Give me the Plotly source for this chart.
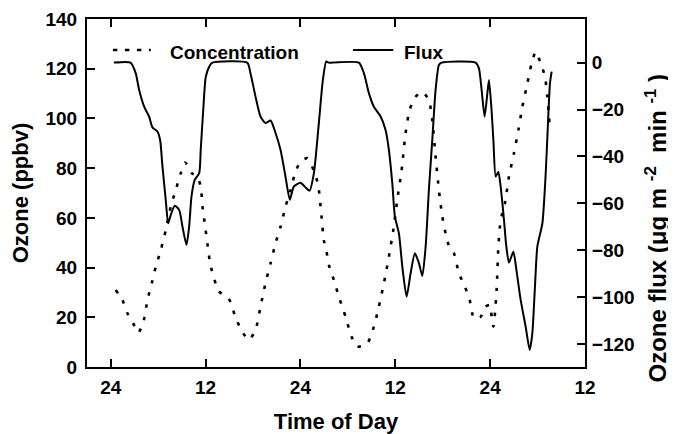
import plotly.graph_objects as go

# Flux (right axis), hours since first midnight
flux_hours = [0.4, 2.5, 3.16, 3.59, 4.23, 4.86, 5.28, 5.91, 6.25, 6.54, 6.96, 7.27, 7.59, 8.10, 8.66,
              9.08, 9.58, 9.92, 10.22, 10.63, 11.19, 11.39, 11.73, 12.03, 12.58, 12.87,
              17.27, 17.68, 18.32, 18.95, 19.58, 20.22, 20.85, 21.48, 22.11, 22.66, 23.16, 24.01,
              24.56, 25.15, 25.70, 26.33, 26.84, 27.27, 27.56,
              31.39, 32.03, 32.66, 33.29, 34.14, 34.77, 35.19, 35.62, 35.95, 36.46, 36.89, 37.43,
              37.94, 38.48, 38.99, 39.42, 39.84, 40.25, 40.68, 41.10, 41.52, 41.86,
              46.16, 46.58, 46.92, 47.30, 47.65, 47.85, 48.15, 48.41, 48.70, 49.04, 49.33, 49.75,
              50.05, 50.38, 50.94, 51.32, 51.86, 52.49, 53.00, 53.34, 53.67, 53.97, 54.61, 55.03,
              55.37, 55.57, 55.78]
flux_values = [0, 0, -4.5, -11.6, -18.8, -23, -27.6, -29.4, -33, -44, -58.5, -68.5, -65, -61, -62.8,
               -70, -77.7, -70, -57, -50, -47.2, -37, -18.8, -6, -1, 0,
               0, -4.5, -14.5, -23, -25.8, -24.7, -30, -37.2, -48.6, -58.5, -52.9, -51.2,
               -52.9, -54.6, -47.2, -25.8, -7.4, 0.5, 0,
               0, -4.5, -13, -18.8, -23, -28.7, -37.2, -51.4, -65.7, -72.8, -87, -99.8,
               -89.8, -81.3, -85.5, -91, -78.5, -54.3, -33, -11.6, -1, 0,
               0, -2.4, -11.6, -23, -13, -7.4, -18.8, -33, -48.6, -46.5, -52.9, -67.1,
               -78.5, -85.3, -80.6, -88.4, -101.2, -112.6, -122.5, -115.4, -95.5, -78.5, -68.5, -47.2,
               -21.6, -8.8, -3.8]

# Ozone concentration (left axis)
conc_hours = [0.63, 1.48, 2.11, 2.84, 3.47, 4.10, 4.65, 5.19, 5.70, 6.33, 6.96, 7.59, 8.23, 8.86, 9.42,
              10.25, 10.97, 11.39, 11.61, 11.87, 12.28, 12.62, 13.67, 14.94, 15.78, 16.63, 17.47,
              18.32, 18.95, 19.58, 20.22, 20.85, 21.48, 22.11, 22.75, 23.38, 24.01, 24.86, 25.91,
              26.33, 26.67, 26.96, 27.27, 27.6, 28.23, 28.86, 29.71, 30.47, 31.19, 32.46, 33.29,
              33.92, 34.56, 35.19, 35.75, 36.25, 36.80, 37.30, 37.81, 38.57, 39.42, 40.25, 40.68,
              41.10, 41.52, 41.95, 42.46, 42.87, 43.42, 44.05, 44.81, 45.41, 45.95, 46.80, 47.43,
              47.97, 48.19, 48.41, 48.61, 48.82, 49.04, 49.33, 49.87, 50.38, 51.01, 51.57, 52.08,
              52.71, 53.25, 53.76, 54.39, 54.94, 55.24, 55.44, 55.57]
conc_values = [31, 27, 21.6, 17.6, 13.8, 17.6, 27, 33.7, 40.3, 47, 55, 64.5, 71.2, 78, 82.3,
               78, 76.5, 72.5, 64.5, 58.5, 48.4, 41, 30.5, 27.5, 20, 14.2, 10.9,
               14.9, 24.3, 33.7, 41.7, 49.8, 56.4, 64.5, 71.2, 78.6, 82.6, 84, 77.2,
               71.2, 60.5, 51, 47, 41, 35, 28.3, 20.2, 12.2, 8.2, 9.5, 16.2,
               24.3, 33.7, 44.4, 55.1, 67.2, 79.2, 94, 103.4, 108.7, 110.7, 107.4, 99.4,
               84.6, 71.2, 60.5, 52.4, 48, 45.7, 37.7, 32.3, 27, 19.6, 20.2, 24.3,
               25, 20.2, 16.2, 21.6, 31, 48.4, 59.1, 65.8, 76.5, 86, 95.3, 104.7,
               114.1, 122.2, 126.8, 122.2, 116.8, 108.7, 100.7, 95.3]

x_tickvals = [0, 12, 24, 36, 48, 60]
x_ticktext = ["24", "12", "24", "12", "24", "12"]
left_ticks = [0, 20, 40, 60, 80, 100, 120, 140]
right_ticks = [-120, -100, -80, -60, -40, -20, 0]
series_names = ["Concentration", "Flux"]

FONT = "Liberation Sans, Arial, Helvetica, sans-serif"
TICKFONT = dict(family=FONT, size=19, color="black", weight="bold")
TITLEFONT = dict(family=FONT, size=22, color="black", weight="bold")
CONC_DASH = "3.5px,9px"

fig = go.Figure()
fig.add_trace(go.Scatter(x=conc_hours, y=conc_values, mode="lines", name=series_names[0],
                         line=dict(color="black", width=2.6, dash=CONC_DASH, shape="spline", smoothing=0.6),
                         yaxis="y", showlegend=False))
fig.add_trace(go.Scatter(x=flux_hours, y=flux_values, mode="lines", name=series_names[1],
                         line=dict(color="black", width=2, shape="spline", smoothing=0.6),
                         yaxis="y2", showlegend=False))

# Manual legend (sample lines + labels, paper coordinates)
fig.add_shape(type="line", xref="paper", yref="paper", x0=0.052, x1=0.128, y0=0.911, y1=0.911,
              line=dict(color="black", width=2.6, dash="4.5px,7.5px"))
fig.add_annotation(xref="paper", yref="paper", x=0.162, y=0.905, xanchor="left", yanchor="middle",
                   text=series_names[0], showarrow=False, font=dict(family=FONT, size=19, color="black", weight="bold"))
fig.add_shape(type="line", xref="paper", yref="paper", x0=0.534, x1=0.615, y0=0.911, y1=0.911,
              line=dict(color="black", width=2))
fig.add_annotation(xref="paper", yref="paper", x=0.632, y=0.905, xanchor="left", yanchor="middle",
                   text=series_names[1], showarrow=False, font=dict(family=FONT, size=19, color="black", weight="bold"))

# Right-axis title (placed as in the original, slightly below the axis centre)
fig.add_annotation(xref="paper", yref="paper", x=1.142, y=0.40, xanchor="center", yanchor="middle",
                   textangle=-90, showarrow=False,
                   text="Ozone flux (μg m&nbsp;<sup>-2</sup>&nbsp;&nbsp;min&nbsp;<sup>-1</sup>&nbsp;)",
                   font=dict(family=FONT, size=24, color="black", weight="bold"))

axis_common = dict(showgrid=False, zeroline=False, showline=True, linecolor="black", linewidth=2,
                   ticks="inside", ticklen=8, tickwidth=2, tickcolor="black",
                   tickfont=TICKFONT, automargin=False)

# The page body has an 8px default margin; margins below compensate for it.
fig.update_layout(
    width=676, height=434,
    margin=dict(l=79, r=99, t=11, b=75),
    paper_bgcolor="white", plot_bgcolor="white",
    font=dict(family=FONT, color="black", weight="bold"),
    showlegend=False,
    xaxis=dict(range=[-3, 60], tickvals=x_tickvals, ticktext=x_ticktext, mirror="ticks",
               ticklabelstandoff=2,
               title=dict(text="Time of Day", font=TITLEFONT, standoff=17),
               **axis_common),
    yaxis=dict(range=[0, 140], tickvals=left_ticks, ticklabelstandoff=4,
               title=dict(text="Ozone (ppbv)", font=TITLEFONT, standoff=12),
               **axis_common),
    yaxis2=dict(range=[-129.8, 18.6], tickvals=right_ticks, overlaying="y", side="right",
                ticklabelstandoff=1, **axis_common),
)

fig.write_html("out.html")
